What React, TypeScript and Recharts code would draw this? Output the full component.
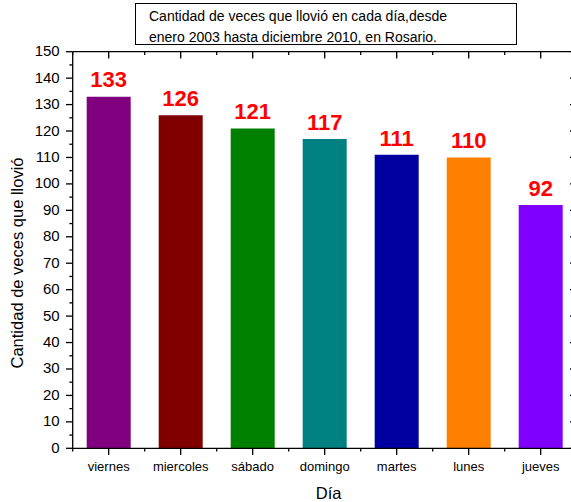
// Lluvia por día de la semana (Rosario, 2003-2010). Estilo Origin: ejes negros finos,
// ticks mayores/menores, marco superior/derecho con ticks hacia adentro, valores en rojo.
import { BarChart, Bar, XAxis, YAxis, Cell, LabelList } from "recharts";

const DIAS = ["viernes", "miercoles", "sábado", "domingo", "martes", "lunes", "jueves"];
const VECES = [133, 126, 121, 117, 111, 110, 92];
const COLORES = ["#800080", "#800000", "#008000", "#008080", "#0000A0", "#FF8000", "#8000FF"];
const Y_TICKS = [0, 5, 10, 15, 20, 25, 30, 35, 40, 45, 50, 55, 60, 65, 70, 75, 80, 85, 90, 95, 100, 105, 110, 115, 120, 125, 130, 135, 140, 145, 150];
const TITULO = ["Cantidad de veces que llovió en cada día,desde", "enero 2003 hasta diciembre 2010, en Rosario."];
const Y_LABEL = "Cantidad de veces que llovió";
const X_LABEL = "Día";

const data = DIAS.map((dia, i) => ({ dia, veces: VECES[i] }));

const FONT = "Arial, 'Liberation Sans', sans-serif";
const W = 580;
const H = 502;
const M = { top: 51.7, right: 3.3, bottom: 0, left: 0 };
const Y_W = 72.7;
const X_H = 53.7;
const BAND = (W - M.left - M.right - Y_W) / DIAS.length;
const AX = { stroke: "#000", strokeWidth: 1.3 };
const MAJ = 6.7;
const MIN = 3.3;

// eslint-disable-next-line @typescript-eslint/no-explicit-any
const LeftTick = (p: any) => {
  const { x, y, payload } = p;
  const major = payload.value % 10 === 0;
  return (
    <g>
      <line x1={x - (major ? MAJ : MIN)} x2={x} y1={y} y2={y} {...AX} />
      {major && (
        <text x={x - 13} y={y + 4.5} textAnchor="end" fontSize={15} fontFamily={FONT} fill="#000">
          {payload.value}
        </text>
      )}
    </g>
  );
};

// eslint-disable-next-line @typescript-eslint/no-explicit-any
const RightTick = (p: any) => {
  const { x, y, payload } = p;
  const major = payload.value % 10 === 0;
  return <line x1={x - (major ? MAJ : MIN)} x2={x} y1={y} y2={y} {...AX} />;
};

// eslint-disable-next-line @typescript-eslint/no-explicit-any
const BottomTick = (p: any) => {
  const { x, y, payload, index } = p;
  return (
    <g>
      <line x1={x} x2={x} y1={y} y2={y + MAJ} {...AX} />
      <line x1={x - BAND / 2} x2={x - BAND / 2} y1={y} y2={y + MIN} {...AX} />
      {index === DIAS.length - 1 && <line x1={x + BAND / 2} x2={x + BAND / 2} y1={y} y2={y + MIN} {...AX} />}
      <text x={x} y={y + 23} textAnchor="middle" fontSize={13} fontFamily={FONT} fill="#000">
        {payload.value}
      </text>
    </g>
  );
};

// eslint-disable-next-line @typescript-eslint/no-explicit-any
const TopTick = (p: any) => {
  const { x, y, index } = p;
  return (
    <g>
      <line x1={x} x2={x} y1={y} y2={y + MAJ} {...AX} />
      <line x1={x - BAND / 2} x2={x - BAND / 2} y1={y} y2={y + MIN} {...AX} />
      {index === DIAS.length - 1 && <line x1={x + BAND / 2} x2={x + BAND / 2} y1={y} y2={y + MIN} {...AX} />}
    </g>
  );
};

// eslint-disable-next-line @typescript-eslint/no-explicit-any
const YLabel = (p: any) => {
  const vb = p.viewBox;
  const cx = 17;
  const cy = vb.y + vb.height / 2 + 13;
  return (
    <text
      x={cx}
      y={cy}
      transform={`rotate(-90 ${cx} ${cy})`}
      textAnchor="middle"
      dominantBaseline="central"
      fontSize={16.5}
      fontFamily={FONT}
      fill="#000"
    >
      {Y_LABEL}
    </text>
  );
};

// eslint-disable-next-line @typescript-eslint/no-explicit-any
const XLabel = (p: any) => {
  const vb = p.viewBox;
  return (
    <text x={vb.x + vb.width / 2 + 4} y={vb.y + vb.height - 3.4} textAnchor="middle" fontSize={16.5} fontFamily={FONT} fill="#000">
      {X_LABEL}
    </text>
  );
};

export default function App() {
  return (
    <div style={{ position: "absolute", left: 0, top: 0, width: 571, height: H, overflow: "hidden", background: "#fff" }}>
      <BarChart width={W} height={H} data={data} margin={M}>
        <XAxis
          dataKey="dia"
          height={X_H}
          interval={0}
          tickSize={0}
          tickMargin={0}
          tick={BottomTick}
          axisLine={AX}
          label={{ content: XLabel }}
        />
        <XAxis
          xAxisId="top"
          dataKey="dia"
          orientation="top"
          mirror
          interval={0}
          tickSize={0}
          tickMargin={0}
          tick={TopTick}
          axisLine={AX}
        />
        <YAxis
          type="number"
          domain={[0, 150]}
          ticks={Y_TICKS}
          interval={0}
          width={Y_W}
          tickSize={0}
          tickMargin={0}
          tick={LeftTick}
          axisLine={AX}
          allowDataOverflow
          label={{ content: YLabel }}
        />
        <YAxis
          yAxisId="r"
          type="number"
          orientation="right"
          mirror
          domain={[0, 150]}
          ticks={Y_TICKS}
          interval={0}
          tickSize={0}
          tickMargin={0}
          tick={RightTick}
          axisLine={AX}
          allowDataOverflow
        />
        <Bar dataKey="veces" barSize={44} isAnimationActive={false}>
          {data.map((d, i) => (
            <Cell key={d.dia} fill={COLORES[i]} />
          ))}
          <LabelList
            dataKey="veces"
            position="top"
            offset={9.3}
            fill="#FF0000"
            fontSize={22}
            fontWeight="bold"
            fontFamily={FONT}
          />
        </Bar>
      </BarChart>
      <div
        style={{
          position: "absolute",
          left: 135,
          top: 3.3,
          width: 381.7,
          height: 42,
          boxSizing: "border-box",
          border: "1.3px solid #000",
          padding: "2px 0 0 13px",
          fontFamily: FONT,
          fontSize: 14,
          lineHeight: "20.8px",
          color: "#000",
          background: "#fff",
        }}
      >
        {TITULO.map((t) => (
          <div key={t}>{t}</div>
        ))}
      </div>
    </div>
  );
}
